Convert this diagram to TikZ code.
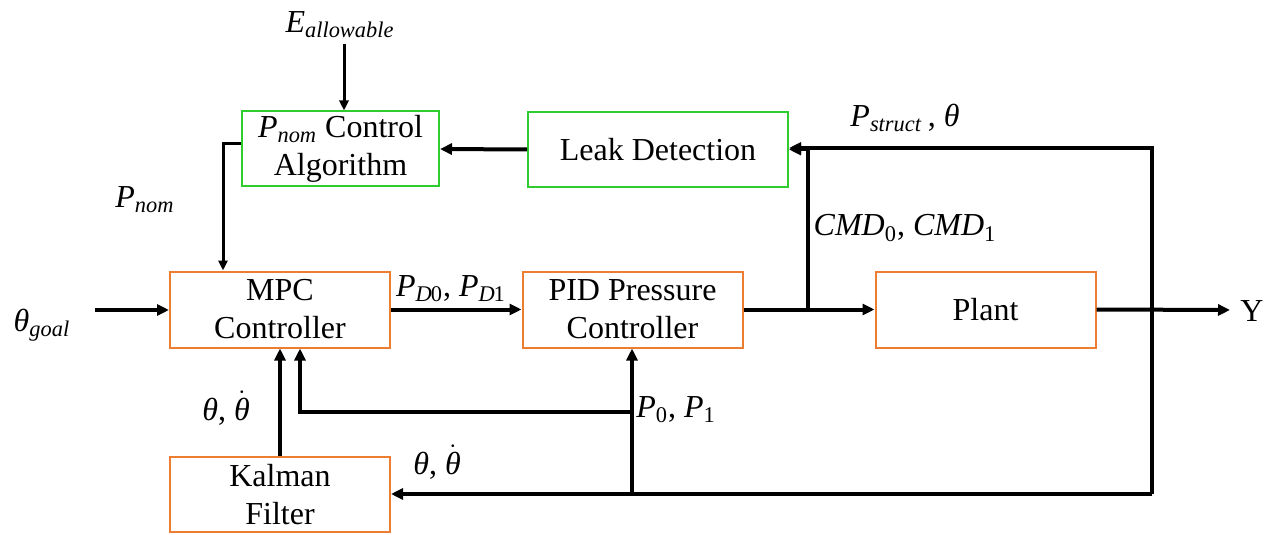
\documentclass[tikz,border=0pt]{standalone}
\usepackage{fontspec}
\setmainfont{LiberationSerif}[Extension=.ttf, UprightFont=*-Regular, BoldFont=*-Bold, ItalicFont=*-Italic, BoldItalicFont=*-BoldItalic]
\usetikzlibrary{arrows.meta}
\definecolor{boxorange}{RGB}{237,125,49}
\definecolor{boxgreen}{RGB}{46,204,46}
\newcommand\msub[2]{\textit{#1}\textsubscript{\textit{#2}}}
\newcommand\thdot{$\dot{\hbox{\itshape θ}}$}
\tikzset{
  blk/.style={draw, line width=1pt, align=center, inner sep=0pt, minimum width=110pt, minimum height=38pt},
  oblk/.style={blk, draw=boxorange},
  gblk/.style={blk, draw=boxgreen},
  arr/.style={line width=2pt, -{Triangle[length=6pt,width=5.5pt]}},
  tarr/.style={line width=1.5pt, -{Triangle[length=5pt,width=4.5pt]}},
  lbl/.style={inner sep=0pt},
}
\begin{document}
\begin{tikzpicture}[x=0.5pt,y=-0.5pt, font=\fontsize{16}{19}\selectfont]
\useasboundingbox (0,0) rectangle (1270,535);
% blocks
\node[gblk, minimum width=98.5pt, minimum height=37.5pt] (pnom) at (340.5,149) {\msub{P}{nom} Control\\Algorithm};
\node[gblk, minimum width=130pt, minimum height=37.5pt] (leak) at (658,149.5) {Leak Detection};
\node[oblk] (mpc) at (280,309.5) {MPC\\Controller};
\node[oblk] (pid) at (632.5,309.5) {PID Pressure\\Controller};
\node[oblk] (plant) at (985.5,309.5) {Plant};
\node[oblk, minimum height=37.5pt] (kal) at (280,494.5) {Kalman\\Filter};
% labels
\node[lbl] (eall) at (340,25) {\msub{E}{allowable}};
\node[lbl] (pnoml) at (145,200) {\msub{P}{nom}};
\node[lbl] (goal) at (42,325) {\msub{θ}{goal}};
\node[lbl] (pd) at (451,289) {\msub{P}{D}\kern-1pt\textsubscript{0}, \msub{P}{D}\kern-1pt\textsubscript{1}};
\node[lbl] (pst) at (905,118) {\msub{P}{struct}\,, \textit{θ}};
\node[lbl] (cmd) at (905,228) {\textit{CMD}\textsubscript{0}, \textit{CMD}\textsubscript{1}};
\node[lbl, anchor=west] (yout) at (1240,311) {Y};
\node[lbl] (th1) at (226,408) {\textit{θ}, \thdot};
\node[lbl] (th2) at (437,462) {\textit{θ}, \thdot};
\node[lbl] (p01) at (676,410) {\textit{P}\textsubscript{0}, \textit{P}\textsubscript{1}};
% coordinates
\coordinate (estart) at (344,44);
\coordinate (gstart) at (95,310);
\coordinate (j1) at (808,310);
\coordinate (tr) at (1152,148);
\coordinate (br) at (1152,494);
\coordinate (j2) at (632,494);
\coordinate (j3) at (632,412);
\coordinate (yend) at (1230,310);
% connectors
\draw[tarr] (estart) -- (estart |- pnom.north);
\draw[arr] (leak.west) -- (pnom.east);
\draw[tarr] ([yshift=2.5pt]pnom.west) -| ([xshift=-28.5pt]mpc.north);
\draw[arr] (gstart) -- (gstart -| mpc.west);
\draw[arr] (mpc.east) -- (pid.west);
\draw[arr] (pid.east) -- (plant.west);
\draw[arr] (j1) |- (leak.east);
\draw[arr] (plant.east) -- (yend);
\draw[arr, line join=miter] (br) -- (tr) -- (tr -| leak.east);
\draw[arr] (br) -- (br -| kal.east);
\draw[arr] (j2) -- (j2 |- pid.south);
\draw[arr] (j3) -| ([xshift=10pt]mpc.south);
\draw[arr] (kal.north) -- (mpc.south);
\end{tikzpicture}
\end{document}
